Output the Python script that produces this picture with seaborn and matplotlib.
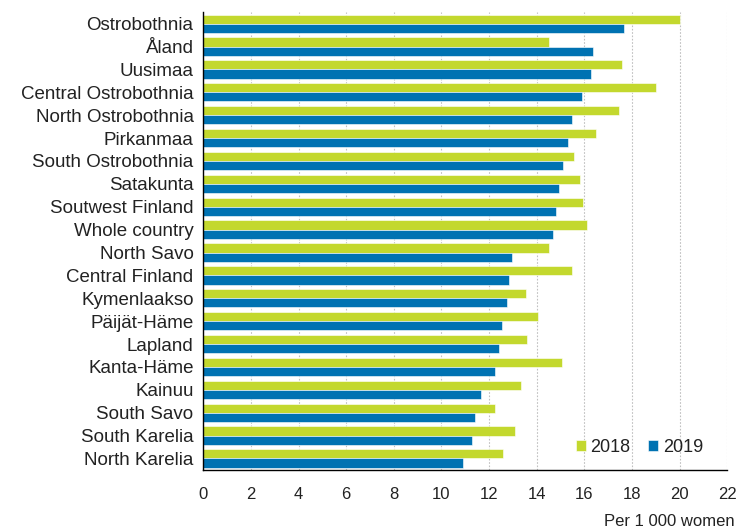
"""
Births per 1 000 women by region, 2018 vs 2019
"""
import numpy as np
import pandas as pd
import matplotlib.pyplot as plt
import seaborn as sns

regions = ['Ostrobothnia', 'Åland', 'Uusimaa', 'Central Ostrobothnia', 'North Ostrobothnia',
           'Pirkanmaa', 'South Ostrobothnia', 'Satakunta', 'Soutwest Finland', 'Whole country',
           'North Savo', 'Central Finland', 'Kymenlaakso', 'Päijät-Häme', 'Lapland',
           'Kanta-Häme', 'Kainuu', 'South Savo', 'South Karelia', 'North Karelia']
rate_2018 = [20.0, 14.5, 17.6, 19.0, 17.45, 16.5, 15.55, 15.8, 15.95, 16.1,
             14.5, 15.5, 13.55, 14.05, 13.6, 15.05, 13.35, 12.25, 13.1, 12.6]
rate_2019 = [17.65, 16.35, 16.3, 15.9, 15.5, 15.3, 15.1, 14.95, 14.8, 14.7,
             12.95, 12.85, 12.75, 12.55, 12.4, 12.25, 11.65, 11.4, 11.3, 10.9]
years = ['2018', '2019']

sns.set_theme(style="white")
plt.rcParams['font.family'] = ['Liberation Sans', 'DejaVu Sans']

df = pd.DataFrame({'region': regions, '2018': rate_2018, '2019': rate_2019})
df = df.melt(id_vars='region', value_vars=years, var_name='year', value_name='rate')

fig, ax = plt.subplots(figsize=(7.42, 5.31), dpi=100)
fig.subplots_adjust(left=0.274, right=0.98, top=0.977, bottom=0.115)

sns.barplot(data=df, y='region', x='rate', hue='year', orient='h',
            palette=['#C3D82E', '#0072B2'], width=0.8, saturation=1,
            edgecolor='white', linewidth=0.4, ax=ax)

ax.set_xlim(0, 22)
ax.set_xticks(range(0, 23, 2))
ax.xaxis.grid(True, linestyle=(0, (1.5, 1.5)), color='#c0c0c0', linewidth=0.8)
ax.set_axisbelow(True)
sns.despine(ax=ax, top=True, right=True)
for side in ['left', 'bottom']:
    ax.spines[side].set_color('black')
    ax.spines[side].set_linewidth(1)
ax.tick_params(axis='x', length=5, width=1, direction='out', color='black',
               labelsize=12, labelcolor='#222222', pad=7)
ax.tick_params(axis='y', length=0, labelsize=13.5, labelcolor='#222222', pad=7)
ax.set_xlabel('')
ax.set_ylabel('')

ax.legend(loc='lower right', bbox_to_anchor=(0.985, -0.005), ncol=2, frameon=False,
          handlelength=0.55, handleheight=0.55, columnspacing=1.0, handletextpad=0.25,
          fontsize=13)
for t in ax.get_legend().get_texts():
    t.set_color('#222222')

fig.text(0.99, 0.003, 'Per 1 000 women', ha='right', va='bottom', fontsize=12, color='#222222')

fig.savefig('out.png')
